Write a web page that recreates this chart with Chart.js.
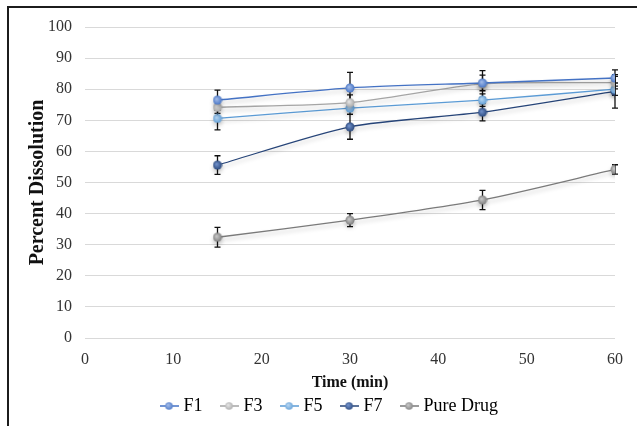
<!DOCTYPE html>
<html>
<head>
<meta charset="utf-8">
<script src="https://cdn.jsdelivr.net/npm/chart.js@4.4.1/dist/chart.umd.min.js"></script>
<style>
    html, body { margin: 0; padding: 0; background: #fff; }
    #wrap { position: relative; width: 637px; height: 426px; overflow: hidden; }
    #frame { position: absolute; left: 7px; top: 6px; right: -5px; bottom: -5px; border-top: 2px solid #1c1c1c; border-left: 2px solid #1c1c1c; pointer-events: none; }
    canvas { position: absolute; left: 0; top: 0; }
</style>
</head>
<body>
<div id="wrap">
    <canvas id="chart" width="637" height="426"></canvas>
    <div id="frame"></div>
</div>
<script>
// --- data
const times = [15, 30, 45, 60];
const seriesNames = ['F1', 'F3', 'F5', 'F7', 'Pure Drug'];
const f1 = [76.5, 80.4, 82.0, 83.6];
const f3 = [74.2, 75.7, 81.7, 82.1];
const f5 = [70.6, 73.9, 76.5, 80.0];
const f7 = [55.6, 67.9, 72.6, 79.3];
const pureDrug = [32.4, 37.9, 44.4, 54.2];
const f1Err = [3.2, 5.0, 2.5, 2.6];
const f3Err = [2.0, 2.5, 4.3, 2.0];
const f5Err = [3.7, 2.0, 2.0, 2.0];
const f7Err = [3.0, 4.0, 2.8, 5.4];
const pureErr = [3.2, 2.1, 3.1, 1.5];
const yTicks = [0, 10, 20, 30, 40, 50, 60, 70, 80, 90, 100];
const xTicks = [0, 10, 20, 30, 40, 50, 60];

const lineColors = ['#4472c4', '#a5a5a5', '#5b9bd5', '#264478', '#7a7a7a'];
const dotLight = ['#9db7e6', '#e2e2e2', '#b3d3f0', '#6f8fc8', '#c4c4c4'];
const values = [f1, f3, f5, f7, pureDrug];
const errors = [f1Err, f3Err, f5Err, f7Err, pureErr];

// --- little shaded balls for the markers
function makeDot(light, dark, w) {
    const c = document.createElement('canvas');
    c.width = w; c.height = 10;
    const g = c.getContext('2d');
    const cx = w / 2;
    if (w > 10) {
        g.strokeStyle = dark;
        g.lineWidth = 1.5;
        g.beginPath();
        g.moveTo(0, 5); g.lineTo(w, 5);
        g.stroke();
    }
    const grad = g.createRadialGradient(cx - 1, 4, 0.5, cx, 5, 5);
    grad.addColorStop(0, light);
    grad.addColorStop(1, dark);
    g.fillStyle = grad;
    g.beginPath();
    g.arc(cx, 5, w > 10 ? 3.8 : 4.5, 0, Math.PI * 2);
    g.fill();
    return c;
}
const pointImgs = lineColors.map((c, i) => makeDot(dotLight[i], c, 10));
const legendImgs = lineColors.map((c, i) => makeDot(dotLight[i], c, 19));

// --- error bars drawn through the chart scales
const errorBars = {
    id: 'errorBars',
    beforeDatasetsDraw(chart) {
        const ctx = chart.ctx;
        const xs = chart.scales.x, ys = chart.scales.y;
        ctx.save();
        ctx.strokeStyle = '#111';
        ctx.lineWidth = 1.3;
        values.forEach((vals, s) => {
            vals.forEach((v, i) => {
                const px = xs.getPixelForValue(times[i]);
                const top = ys.getPixelForValue(v + errors[s][i]);
                const bot = ys.getPixelForValue(v - errors[s][i]);
                ctx.beginPath();
                ctx.moveTo(px, top); ctx.lineTo(px, bot);
                ctx.moveTo(px - 3, top); ctx.lineTo(px + 3, top);
                ctx.moveTo(px - 3, bot); ctx.lineTo(px + 3, bot);
                ctx.stroke();
            });
        });
        ctx.restore();
    }
};

// --- soft shadow under the lines like the original
const lineShadow = {
    id: 'lineShadow',
    beforeDatasetDraw(chart) {
        const ctx = chart.ctx;
        ctx.save();
        ctx.shadowColor = 'rgba(0,0,0,0.22)';
        ctx.shadowBlur = 4;
        ctx.shadowOffsetY = 3;
    },
    afterDatasetDraw(chart) {
        chart.ctx.restore();
    }
};

// --- put the legend row where it sits in the original
const legendNudge = {
    id: 'legendNudge',
    afterLayout(chart) {
        const lg = chart.legend;
        const pad = lg.options.labels.padding;
        const curX = (lg.left + pad + lg.right - lg.lineWidths[0]) / 2;
        const dx = 163.5 - curX;
        lg.left += dx; lg.right += dx;
        lg.top = 406 - pad - 9;
        lg.bottom = 426;
        lg.height = lg.bottom - lg.top;
    }
};

const serif = 'Liberation Serif';

new Chart(document.getElementById('chart').getContext('2d'), {
    type: 'line',
    data: {
        datasets: values.map((vals, i) => ({
            label: seriesNames[i],
            data: vals.map((v, j) => ({ x: times[j], y: v })),
            borderColor: lineColors[i],
            backgroundColor: lineColors[i],
            borderWidth: 1.3,
            pointStyle: pointImgs[i],
            pointRadius: 5,
            tension: 0.25
        }))
    },
    options: {
        responsive: false,
        animation: false,
        layout: { padding: { left: 10, right: 22, top: 27, bottom: 0 } },
        scales: {
            x: {
                type: 'linear',
                min: 0, max: 60,
                afterBuildTicks: s => { s.ticks = xTicks.map(v => ({ value: v })); },
                afterFit: s => { s.height = 54; },
                grid: { display: false, drawTicks: false },
                border: { display: false },
                ticks: { padding: 12, color: '#333', font: { family: serif, size: 16 } },
                title: { display: true, text: 'Time (min)', color: '#111', padding: { top: 4, bottom: 0 }, font: { family: serif, size: 16, weight: 'bold' } }
            },
            y: {
                min: 0, max: 100,
                afterBuildTicks: s => { s.ticks = yTicks.map(v => ({ value: v })); },
                afterFit: s => { s.width = 75; },
                grid: { color: '#d9d9d9', lineWidth: 1, drawTicks: false },
                border: { display: false },
                ticks: { padding: 13, color: '#333', font: { family: serif, size: 16 } },
                title: { display: true, text: 'Percent Dissolution', color: '#111', padding: { top: 16, bottom: 0 }, font: { family: serif, size: 20, weight: 'bold' } }
            }
        },
        plugins: {
            legend: {
                position: 'bottom',
                maxHeight: 34,
                labels: {
                    usePointStyle: true,
                    pointStyleWidth: 11,
                    padding: 21,
                    color: '#222',
                    font: { family: serif, size: 18 },
                    generateLabels: chart => chart.data.datasets.map((d, i) => ({
                        text: d.label,
                        pointStyle: legendImgs[i],
                        fillStyle: d.borderColor,
                        strokeStyle: d.borderColor,
                        lineWidth: 0,
                        hidden: false,
                        datasetIndex: i
                    }))
                }
            },
            tooltip: { enabled: false }
        }
    },
    plugins: [errorBars, lineShadow, legendNudge]
});
</script>
</body>
</html>
